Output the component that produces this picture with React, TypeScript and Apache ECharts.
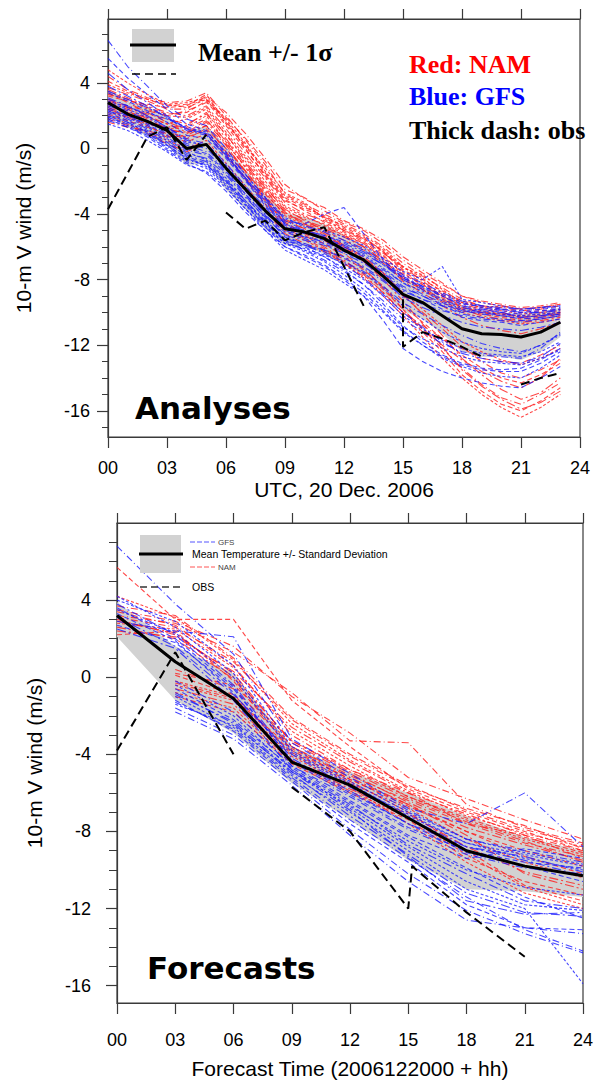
import React, { useEffect, useRef } from "react";
import * as echarts from "echarts";

// ---------- axes / ticks ----------
const HOURS_A = [0, 1, 2, 3, 4, 5, 6, 7, 8, 9, 10, 11, 12, 13, 14, 15, 16, 17, 18, 19, 20, 21, 22, 23];
const HOURS_F = [0, 3, 6, 9, 12, 15, 18, 21, 24];
const Y_MAJOR = [-16, -12, -8, -4, 0, 4];
const Y_MINOR_A = [-17, -16, -15, -14, -13, -12, -11, -10, -9, -8, -7, -6, -5, -4, -3, -2, -1, 0, 1, 2, 3, 4, 5, 6, 7];
const Y_MINOR_F = [-16, -15, -14, -13, -12, -11, -10, -9, -8, -7, -6, -5, -4, -3, -2, -1, 0, 1, 2, 3, 4, 5, 6, 7];

// ---------- Analyses (top) ----------
const meanA = [2.8, 2.1, 1.65, 1.1, 0.0, 0.25, -1.2, -2.5, -3.8, -4.9, -5.1, -5.5, -6.2, -6.8, -7.8, -8.9, -9.4, -10.2, -11.0, -11.3, -11.35, -11.5, -11.2, -10.6];
const upperA = [3.6, 2.9, 2.5, 2.0, 1.0, 1.4, 0.1, -1.3, -2.7, -3.9, -4.2, -4.6, -5.3, -5.9, -6.8, -7.9, -8.4, -9.1, -9.6, -9.9, -10.0, -10.1, -10.0, -9.7];
const lowerA = [2.0, 1.3, 0.8, 0.2, -1.0, -0.9, -2.5, -3.7, -4.9, -5.9, -6.0, -6.4, -7.1, -7.7, -8.8, -9.9, -10.4, -11.3, -12.4, -12.7, -12.7, -12.9, -12.4, -11.5];
const obsHoursA = [0, 1, 2, 3, 4, 5, 5.5, 6, 7, 8, 9, 10, 11, 12, 13, 14, 15, 15, 16, 17, 18, 19, 20, 21, 22, 23];
const obsValuesA = [-3.7, -1.5, 0.7, 1.3, -0.7, 0.85, null, -3.9, -4.9, -4.4, -5.6, -5.1, -4.8, -7.2, -9.6, null, -9.2, -12.1, -11.2, -11.6, -12.1, -12.7, null, -14.4, -14.0, -13.7];

const namA1 = [3.2, 2.9, 2.7, 2.5, 2.6, 3.3, 1.6, 0.2, -1.5, -3.0, -3.6, -4.1, -4.8, -5.4, -6.3, -7.4, -8.0, -8.7, -9.3, -9.6, -9.8, -10.0, -9.9, -9.8];
const namA2 = [4.4, 3.6, 3.1, 2.8, 2.9, 3.4, 2.0, 0.5, -1.0, -2.8, -3.4, -4.0, -4.6, -5.2, -6.0, -7.0, -7.8, -8.5, -9.2, -9.6, -9.7, -9.9, -9.8, -9.6];
const namA3 = [2.6, 2.2, 1.9, 1.5, 1.8, 2.4, 0.8, -0.6, -2.2, -3.6, -4.2, -4.6, -5.2, -5.8, -6.6, -7.6, -8.3, -9.0, -9.6, -9.9, -10.1, -10.2, -10.1, -10.0];
const namA4 = [3.6, 3.1, 2.6, 2.2, 2.0, 2.6, 1.2, -0.3, -1.8, -3.3, -4.0, -4.4, -5.0, -5.6, -6.4, -7.2, -8.1, -8.9, -9.5, -9.8, -10.0, -10.3, -10.2, -10.1];
const namA5 = [2.1, 1.7, 1.3, 0.9, 0.6, 1.2, 0.0, -1.4, -2.8, -4.0, -4.6, -5.0, -5.6, -6.2, -7.0, -8.0, -8.6, -9.3, -9.9, -10.1, -10.3, -10.5, -10.4, -10.2];
const namA6 = [3.0, 2.6, 2.3, 2.0, 2.3, 2.8, 1.9, 0.6, -0.8, -2.5, -3.0, -3.8, -4.5, -5.0, -5.8, -6.8, -7.6, -8.3, -9.0, -9.3, -9.5, -9.7, -9.6, -9.4];
const namA7 = [4.8, 4.0, 3.3, 2.7, 2.5, 3.0, 1.5, 0.1, -1.2, -2.7, -3.3, -4.3, -5.0, -5.5, -6.2, -7.3, -7.7, -8.6, -9.4, -9.7, -9.9, -10.1, -10.0, -9.9];
const namA8 = [2.8, 2.4, 1.8, 1.2, 0.9, 1.6, 0.3, -1.1, -2.6, -3.9, -4.5, -4.9, -5.4, -6.0, -6.8, -7.9, -8.5, -9.2, -9.8, -10.2, -10.4, -10.6, -10.5, -10.3];
const namA9 = [2.4, 1.9, 1.4, 0.8, 0.4, 0.9, -0.5, -1.8, -3.2, -4.5, -5.2, -5.8, -6.6, -7.4, -8.4, -9.6, -10.6, -11.6, -12.6, -13.4, -14.0, -14.3, -13.8, -13.1];
const namA10 = [3.4, 2.8, 2.2, 1.6, 1.2, 1.8, 0.2, -1.4, -2.9, -4.3, -4.9, -5.6, -6.4, -7.3, -8.5, -9.8, -11.0, -12.2, -13.4, -14.4, -15.2, -15.6, -15.0, -14.3];
const namA11 = [2.0, 1.5, 1.0, 0.5, 0.0, 0.5, -0.9, -2.3, -3.7, -5.0, -5.6, -6.2, -7.0, -7.9, -9.0, -10.2, -11.5, -12.8, -14.0, -15.0, -15.8, -16.4, -15.8, -15.0];
const namA12 = [3.0, 2.5, 2.0, 1.5, 1.0, 1.4, -0.2, -1.6, -3.1, -4.6, -5.3, -6.0, -6.8, -7.7, -8.8, -10.0, -11.0, -12.0, -12.9, -13.6, -14.2, -14.6, -14.0, -12.8];
const namA13 = [2.7, 2.3, 1.7, 1.0, 0.7, 1.1, -0.3, -1.9, -3.4, -4.8, -5.5, -6.1, -6.9, -7.6, -8.6, -9.8, -11.2, -12.4, -13.8, -14.8, -15.6, -16.0, -15.4, -14.6];
const namA14 = [1.8, 1.4, 0.9, 0.3, -0.2, 0.3, -1.2, -2.6, -3.8, -5.2, -5.8, -6.3, -7.0, -7.8, -8.8, -10.0, -10.8, -11.6, -12.2, -12.8, -13.0, -13.1, -12.6, -12.0];
const namA15 = [3.9, 3.4, 3.0, 2.7, 2.8, 3.1, 1.8, 0.3, -1.4, -2.9, -3.5, -4.2, -4.7, -5.3, -6.1, -7.2, -7.9, -8.8, -9.4, -9.7, -9.6, -9.8, -9.7, -9.5];
const namA16 = [2.5, 2.1, 1.6, 1.1, 1.0, 1.7, 0.5, -1.0, -2.4, -3.7, -4.4, -4.8, -5.3, -6.0, -6.9, -8.1, -8.8, -9.6, -10.3, -10.8, -11.1, -11.3, -11.0, -10.6];
const namA17 = [3.3, 3.0, 2.5, 2.1, 2.2, 2.9, 1.4, -0.1, -1.6, -3.1, -3.8, -4.5, -5.1, -5.7, -6.5, -7.7, -8.3, -9.1, -9.7, -10.0, -10.2, -10.4, -10.3, -10.1];
const namA18 = [3.7, 3.3, 2.9, 2.4, 2.4, 3.2, 2.2, 0.9, -0.6, -2.2, -3.1, -3.6, -4.4, -4.9, -5.6, -6.6, -7.4, -8.2, -9.0, -9.4, -9.6, -9.8, -9.7, -9.5];
const namA19 = [2.2, 1.9, 1.5, 1.2, 1.3, 2.0, 0.4, -1.2, -2.7, -4.1, -4.7, -5.3, -6.0, -6.7, -7.6, -8.8, -9.8, -10.8, -11.8, -12.4, -12.9, -13.2, -12.8, -12.2];
const namA20 = [2.9, 2.5, 2.1, 1.8, 1.5, 2.1, 0.9, -0.8, -2.3, -3.8, -4.3, -5.1, -5.9, -6.6, -7.6, -8.9, -10.1, -11.4, -12.8, -13.8, -14.7, -15.3, -14.9, -14.0];
const namA21 = [4.1, 3.5, 3.0, 2.6, 2.7, 3.0, 1.7, 0.0, -1.7, -3.2, -3.7, -4.2, -4.9, -5.5, -6.3, -7.5, -8.2, -9.0, -9.7, -10.0, -10.1, -10.3, -10.2, -10.0];
const namA22 = [1.6, 1.3, 1.1, 0.7, 0.8, 1.4, 0.2, -1.5, -3.0, -4.4, -4.9, -5.4, -6.1, -6.8, -7.8, -9.0, -10.0, -11.0, -12.1, -13.0, -13.7, -14.0, -13.5, -12.9];
const namA23 = [3.5, 3.0, 2.4, 2.0, 1.9, 2.5, 1.0, -0.5, -2.0, -3.5, -4.1, -4.7, -5.3, -5.8, -6.7, -7.8, -8.6, -9.4, -10.0, -10.3, -10.5, -10.7, -10.6, -10.4];
const namA24 = [2.4, 2.0, 1.6, 1.3, 1.4, 2.2, 0.6, -0.9, -2.5, -3.9, -4.6, -5.2, -6.0, -6.9, -8.0, -9.3, -10.7, -12.1, -13.5, -14.5, -15.3, -15.9, -15.5, -14.8];

const gfsA1 = [6.6, 5.0, 3.8, 2.6, 1.8, 1.4, 0.0, -1.6, -3.0, -4.4, -5.0, -5.4, -6.0, -6.6, -7.4, -8.2, -8.9, -9.4, -9.9, -10.1, -10.2, -10.4, -10.3, -10.1];
const gfsA2 = [2.8, 2.4, 1.9, 1.2, 0.4, 0.2, -1.0, -2.4, -3.8, -4.9, -5.4, -5.6, -6.0, -6.5, -7.3, -8.2, -8.7, -9.3, -9.8, -10.0, -10.1, -10.2, -10.1, -10.0];
const gfsA3 = [2.3, 1.8, 1.2, 0.5, -0.3, -0.6, -1.6, -3.0, -4.2, -5.3, -5.6, -5.9, -6.4, -7.0, -7.8, -8.7, -9.2, -9.6, -10.0, -9.8, -10.0, -10.3, -10.2, -10.1];
const gfsA4 = [3.4, 2.9, 2.3, 1.6, 0.8, 0.6, -0.6, -2.0, -3.5, -4.7, -5.1, -5.3, -5.7, -6.2, -7.0, -7.9, -8.5, -9.0, -9.5, -9.6, -9.8, -9.9, -9.8, -9.7];
const gfsA5 = [1.7, 1.3, 0.8, 0.1, -0.7, -1.0, -2.1, -3.4, -4.6, -5.6, -5.9, -6.2, -6.7, -7.3, -8.1, -9.0, -9.5, -9.9, -10.2, -10.4, -10.5, -10.6, -10.4, -10.2];
const gfsA6 = [2.9, 2.5, 2.2, 1.8, 1.3, 1.0, -0.2, -1.6, -3.0, -4.2, -4.8, -5.0, -5.4, -5.9, -6.7, -7.5, -8.0, -7.2, -9.2, -9.4, -9.6, -9.8, -9.7, -9.6];
const gfsA7 = [2.0, 1.6, 1.0, 0.3, -0.4, -0.8, -1.9, -3.2, -4.4, -5.5, -5.8, -6.2, -6.6, -7.2, -8.0, -9.1, -9.7, -10.2, -10.6, -10.9, -11.0, -11.1, -10.9, -10.6];
const gfsA8 = [5.5, 4.3, 3.3, 2.4, 1.5, 1.1, -0.3, -1.8, -3.2, -4.5, -4.6, -4.0, -3.6, -5.2, -6.8, -7.9, -8.4, -8.9, -9.4, -9.7, -9.9, -10.0, -9.9, -9.8];
const gfsA9 = [2.5, 2.0, 1.4, 0.7, -0.1, -0.4, -1.5, -2.9, -4.3, -5.6, -6.2, -6.8, -7.5, -8.3, -9.3, -10.4, -11.2, -11.9, -12.4, -12.6, -12.7, -12.8, -12.2, -11.2];
const gfsA10 = [1.9, 1.4, 0.8, 0.0, -0.8, -1.2, -2.3, -3.7, -5.0, -6.2, -6.8, -7.4, -8.2, -9.0, -10.0, -11.2, -12.0, -12.8, -13.3, -13.7, -13.9, -14.0, -13.4, -12.6];
const gfsA11 = [3.1, 2.6, 2.0, 1.3, 0.5, 0.2, -1.1, -2.6, -4.0, -5.3, -5.9, -6.4, -7.1, -7.9, -8.9, -10.0, -10.9, -11.8, -12.5, -12.8, -13.0, -13.1, -12.7, -11.9];
const gfsA12 = [2.2, 1.7, 1.1, 0.4, -0.5, -0.9, -2.0, -3.4, -4.8, -6.0, -6.6, -7.2, -8.0, -9.0, -10.5, -12.2, -13.0, -13.6, -14.0, -14.3, -14.5, -14.6, -14.0, -13.3];
const gfsA13 = [2.6, 2.2, 1.6, 0.9, 0.2, -0.2, -1.3, -2.8, -4.1, -5.4, -5.9, -6.3, -6.9, -7.5, -8.4, -9.4, -10.1, -10.8, -11.4, -11.9, -12.2, -12.4, -12.0, -11.4];
const gfsA14 = [1.5, 1.1, 0.5, -0.2, -1.0, -1.4, -2.4, -3.7, -4.8, -5.8, -6.3, -6.9, -7.7, -8.6, -9.7, -10.9, -11.6, -12.2, -12.7, -13.0, -13.1, -13.2, -12.8, -12.3];
const gfsA15 = [3.8, 3.2, 2.6, 1.9, 1.2, 0.9, -0.4, -1.9, -3.3, -4.6, -5.1, -5.5, -5.9, -6.4, -7.1, -7.8, -8.4, -9.0, -9.6, -9.8, -9.8, -10.0, -10.0, -9.9];
const gfsA16 = [2.4, 2.0, 1.5, 0.8, 0.0, -0.3, -1.4, -2.8, -4.1, -5.1, -5.5, -5.8, -6.3, -6.9, -7.7, -8.6, -9.2, -9.8, -10.3, -10.5, -10.6, -10.8, -10.6, -10.4];
const gfsA17 = [3.0, 2.6, 2.0, 1.3, 0.6, 0.3, -0.9, -2.3, -3.6, -4.8, -5.2, -5.5, -6.1, -6.8, -7.6, -8.5, -9.0, -9.5, -9.9, -10.0, -10.2, -10.3, -10.2, -10.0];
const gfsA18 = [2.1, 1.6, 1.0, 0.2, -0.6, -1.1, -2.2, -3.5, -4.7, -5.8, -6.1, -6.5, -7.0, -7.6, -8.5, -9.6, -10.4, -11.2, -11.8, -12.2, -12.4, -12.5, -12.0, -11.3];
const gfsA19 = [3.5, 3.0, 2.5, 1.9, 1.1, 0.8, -0.5, -1.9, -3.4, -4.6, -5.0, -5.3, -5.8, -6.3, -7.1, -8.0, -8.6, -9.2, -9.7, -9.9, -10.0, -10.1, -10.0, -9.8];
const gfsA20 = [1.8, 1.3, 0.7, -0.1, -0.9, -1.5, -2.6, -3.9, -5.0, -6.0, -6.5, -7.1, -7.9, -8.8, -9.9, -11.1, -12.0, -12.7, -13.2, -13.5, -13.6, -13.6, -13.1, -12.4];
const gfsA21 = [2.7, 2.3, 1.7, 1.0, 0.3, 0.0, -1.2, -2.6, -3.9, -5.0, -5.4, -5.7, -6.2, -6.8, -7.5, -8.4, -9.0, -9.6, -10.1, -10.3, -10.4, -10.5, -10.4, -10.2];
const gfsA22 = [2.3, 1.9, 1.3, 0.6, -0.2, -0.7, -1.8, -3.2, -4.5, -5.7, -6.2, -6.6, -7.3, -8.0, -9.0, -10.2, -11.0, -11.7, -12.2, -12.5, -12.6, -12.7, -12.4, -11.8];
const gfsA23 = [4.6, 3.6, 2.8, 2.0, 1.2, 0.9, -0.4, -1.8, -3.1, -4.3, -4.7, -5.1, -5.6, -6.1, -6.9, -7.7, -8.2, -8.8, -9.3, -9.6, -9.7, -9.8, -9.7, -9.6];
const gfsA24 = [1.9, 1.5, 0.9, 0.2, -0.6, -1.0, -2.0, -3.3, -4.5, -5.6, -6.0, -6.6, -7.4, -8.3, -9.5, -10.8, -11.8, -12.6, -13.1, -13.4, -13.5, -13.4, -12.9, -12.2];

// ---------- Forecasts (bottom), 3-hourly ----------
const meanF = [3.2, 0.8, -1.1, -4.4, -5.6, -7.3, -9.0, -9.8, -10.3];
const upperF = [3.9, 1.6, 0.2, -3.6, -4.9, -6.0, -7.2, -8.3, -9.0];
const lowerF = [2.1, -1.2, -2.9, -5.5, -7.4, -9.5, -11.0, -11.1, -11.4];
const obsHoursF = [0, 3, 6, 7.5, 9, 12, 15, 15.2, 18, 21];
const obsValuesF = [-3.8, 1.3, -4.0, null, -5.7, -8.0, -12.0, -9.8, -12.2, -14.5];

const gfsF1 = [6.8, 3.8, 1.2, -3.4, -5.2, -6.9, -8.4, -9.0, -9.6];
const gfsF2 = [4.2, 2.6, 0.2, -3.8, -5.5, -7.2, -8.6, -9.2, -9.8];
const gfsF3 = [3.8, 2.2, -0.4, -4.2, -5.9, -7.6, -8.8, -9.3, -10.1];
const gfsF4 = [3.3, 1.9, -0.8, -4.6, -6.4, -8.2, -9.4, -8.9, -9.4];
const gfsF5 = [2.9, 2.4, 2.1, -3.2, -5.0, -6.8, -7.6, -6.0, -8.8];
const gfsF6 = [null, -0.4, -2.0, -4.8, -6.8, -8.8, -10.6, -11.8, -12.1];
const gfsF7 = [null, -0.8, -2.4, -5.0, -7.2, -9.2, -11.2, -12.2, -12.4];
const gfsF8 = [null, -1.2, -2.8, -5.3, -7.6, -9.6, -11.8, -13.0, -13.1];
const gfsF9 = [null, -1.6, -3.0, -5.4, -7.9, -10.2, -12.1, -13.3, -14.3];
const gfsF10 = [null, -1.0, -2.6, -5.1, -7.0, -9.0, -11.0, -12.0, -15.9];
const gfsF11 = [2.5, 1.5, -1.2, -4.8, -6.6, -8.7, -10.2, -11.6, -12.0];
const gfsF12 = [3.6, 2.0, -0.5, -4.4, -6.1, -7.8, -9.0, -9.6, -9.9];
const gfsF13 = [null, -0.2, -1.8, -4.6, -6.2, -7.9, -9.2, -9.9, -10.2];
const gfsF14 = [null, -1.4, -2.5, -4.9, -6.7, -8.5, -10.0, -10.9, -11.3];
const gfsF15 = [3.1, 1.6, -0.9, -4.0, -5.7, -7.3, -8.8, -9.5, -10.3];
const gfsF16 = [null, -0.6, -2.2, -4.7, -6.5, -8.3, -9.9, -11.4, -12.5];
const gfsF17 = [null, -1.8, -3.2, -5.6, -8.2, -10.6, -12.6, -13.0, -13.3];
const gfsF18 = [4.0, 2.9, 0.6, -3.6, -5.4, -7.0, -8.4, -9.1, -9.7];
const gfsF19 = [null, -0.9, -2.3, -4.9, -6.9, -9.3, -11.6, -12.3, -12.2];
const gfsF20 = [2.7, 1.8, -0.6, -4.3, -6.0, -7.6, -9.1, -9.8, -10.6];
const gfsF21 = [null, -1.3, -2.7, -5.2, -7.4, -9.4, -11.4, -13.1, -14.2];
const gfsF22 = [3.5, 2.3, 0.0, -3.9, -5.6, -7.1, -8.6, -9.4, -10.0];

const namF1 = [5.7, 3.0, 3.0, -1.2, -3.6, -5.8, -7.0, -8.0, -9.0];
const namF2 = [3.2, 2.8, 1.3, -0.8, -3.3, -3.4, -6.6, -7.8, -8.6];
const namF3 = [2.8, 2.5, 0.5, -2.8, -4.6, -6.2, -7.4, -8.4, -9.2];
const namF4 = [3.0, 2.2, 0.2, -3.4, -5.0, -6.5, -7.8, -8.7, -9.5];
const namF5 = [2.2, 2.4, -0.2, -3.8, -5.3, -6.7, -8.0, -9.0, -9.8];
const namF6 = [null, 0.4, -0.6, -3.6, -5.1, -6.4, -7.6, -8.2, -9.0];
const namF7 = [null, -0.2, -1.0, -4.0, -5.5, -6.8, -8.4, -9.6, -10.4];
const namF8 = [null, -0.6, -1.4, -4.3, -5.8, -7.1, -8.8, -10.1, -10.8];
const namF9 = [null, -1.0, -1.8, -4.5, -6.0, -7.4, -9.4, -10.6, -11.3];
const namF10 = [3.5, 2.9, 1.6, -1.0, -2.9, -5.2, -6.3, -7.4, -8.4];
const namF11 = [4.2, 3.1, 0.9, -2.4, -4.3, -5.9, -7.2, -8.1, -8.8];
const namF12 = [2.6, 2.0, -0.1, -3.6, -5.2, -6.6, -8.2, -10.2, -11.0];
const namF13 = [null, 0.1, -0.9, -3.9, -5.4, -7.0, -9.0, -10.8, -11.6];
const namF14 = [3.4, 2.7, 0.6, -3.0, -4.8, -6.0, -7.6, -8.6, -9.3];
const namF15 = [null, -0.4, -1.2, -4.1, -5.7, -7.6, -9.6, -11.2, -12.0];
const namF16 = [2.9, 2.3, 0.0, -3.3, -4.9, -6.3, -7.5, -8.5, -9.6];
const namF17 = [null, 0.2, -0.4, -3.3, -4.8, -6.2, -7.3, -8.3, -9.1];
const namF18 = [3.7, 3.2, 1.0, -2.1, -4.0, -5.6, -6.9, -7.9, -8.7];
const namF19 = [null, -0.8, -1.6, -4.4, -5.9, -7.3, -9.2, -10.9, -11.8];
const namF20 = [2.4, 2.1, 0.3, -2.6, -4.4, -6.0, -7.1, -8.2, -9.4];
const namF21 = [null, -0.3, -1.1, -3.7, -5.3, -6.6, -8.0, -9.3, -10.2];
const namF22 = [3.1, 2.6, 0.8, -2.2, -4.1, -5.7, -6.8, -7.7, -8.9];

const NAM_A = [namA1, namA2, namA3, namA4, namA5, namA6, namA7, namA8, namA9, namA10, namA11, namA12,
  namA13, namA14, namA15, namA16, namA17, namA18, namA19, namA20, namA21, namA22, namA23, namA24];
const GFS_A = [gfsA1, gfsA2, gfsA3, gfsA4, gfsA5, gfsA6, gfsA7, gfsA8, gfsA9, gfsA10, gfsA11, gfsA12,
  gfsA13, gfsA14, gfsA15, gfsA16, gfsA17, gfsA18, gfsA19, gfsA20, gfsA21, gfsA22, gfsA23, gfsA24];
const NAM_F = [namF1, namF2, namF3, namF4, namF5, namF6, namF7, namF8, namF9, namF10, namF11, namF12,
  namF13, namF14, namF15, namF16, namF17, namF18, namF19, namF20, namF21, namF22];
const GFS_F = [gfsF1, gfsF2, gfsF3, gfsF4, gfsF5, gfsF6, gfsF7, gfsF8, gfsF9, gfsF10, gfsF11, gfsF12,
  gfsF13, gfsF14, gfsF15, gfsF16, gfsF17, gfsF18, gfsF19, gfsF20, gfsF21, gfsF22];

const RED = "#ff1a1a";
const BLUE = "#1a1aff";
const DASHES = [[5, 3], [7, 3, 1, 3], [3, 2], [9, 3, 2, 3]];
const FRAME = "#3a3a3a";
const SANS = "Liberation Sans";

function pairs(xs: number[], ys: (number | null)[]) {
  const out: any[] = [];
  for (let i = 0; i < xs.length; i++) {
    out.push(ys[i] == null ? [xs[i], "-"] : [xs[i], ys[i]]);
  }
  return out;
}

function memberSeries(list: (number | null)[][], hours: number[], color: string, axis: number, offset: number) {
  return list.map((arr, i) => ({
    type: "line",
    xAxisIndex: axis,
    yAxisIndex: axis,
    data: pairs(hours, arr),
    symbol: "none",
    silent: true,
    connectNulls: false,
    z: 2,
    lineStyle: { color, width: 1.1, opacity: 0.8, type: DASHES[(i + offset) % DASHES.length] },
  }));
}

function bandSeries(hours: number[], up: number[], lo: number[], axis: number) {
  return {
    type: "custom",
    xAxisIndex: axis,
    yAxisIndex: axis,
    silent: true,
    z: 1,
    data: [[hours[0], up[0]]],
    renderItem: (_p: any, api: any) => {
      const pts: number[][] = [];
      for (let i = 0; i < hours.length; i++) pts.push(api.coord([hours[i], up[i]]));
      for (let i = hours.length - 1; i >= 0; i--) pts.push(api.coord([hours[i], lo[i]]));
      return { type: "polygon", shape: { points: pts }, style: { fill: "#d2d2d2", stroke: "none" } };
    },
  };
}

function xAxes(grid: number, name: string, labelMargin: number, nameGap: number) {
  return [
    {
      type: "value", gridIndex: grid, min: 0, max: 24, interval: 3, position: "bottom",
      axisLine: { show: true, onZero: false, lineStyle: { color: FRAME, width: 1.2 } },
      axisTick: { show: true, length: 11, lineStyle: { color: FRAME, width: 1.2 } },
      axisLabel: { show: true, margin: labelMargin, fontSize: 18, color: "#000", fontFamily: SANS,
        formatter: (v: number) => (v < 10 ? "0" + v : String(v)) },
      splitLine: { show: false },
      name, nameLocation: "middle", nameGap,
      nameTextStyle: { fontSize: 21, color: "#000", fontFamily: SANS },
    },
    {
      type: "value", gridIndex: grid, min: 0, max: 24, interval: 3, position: "top",
      axisLine: { show: true, onZero: false, lineStyle: { color: FRAME, width: 1.2 } },
      axisTick: { show: true, length: 10, lineStyle: { color: FRAME, width: 1.2 } },
      axisLabel: { show: false },
      splitLine: { show: false },
    },
  ];
}

function yAxes(grid: number, min: number, max: number, minor: number[], labelMargin: number, nameGap: number, minorLen: number) {
  return [
    {
      type: "value", gridIndex: grid, min, max, position: "left",
      axisLine: { show: true, onZero: false, lineStyle: { color: FRAME, width: 1.2 } },
      axisTick: { show: true, length: 11, customValues: Y_MAJOR, lineStyle: { color: FRAME, width: 1.2 } },
      axisLabel: { show: true, customValues: Y_MAJOR, margin: labelMargin, fontSize: 18, color: "#000", fontFamily: SANS },
      splitLine: { show: false },
      name: "10-m V wind (m/s)", nameLocation: "middle", nameGap,
      nameTextStyle: { fontSize: 21, color: "#000", fontFamily: SANS },
    },
    {
      type: "value", gridIndex: grid, min, max, position: "left",
      axisLine: { show: false, onZero: false },
      axisTick: { show: true, length: minorLen, customValues: minor, lineStyle: { color: FRAME, width: 1 } },
      axisLabel: { show: false },
      splitLine: { show: false },
    },
  ];
}

export default function App() {
  const ref = useRef<HTMLDivElement>(null);

  useEffect(() => {
    document.body.style.margin = "0";
    if (!ref.current) return;
    const chart = echarts.init(ref.current, undefined, { renderer: "svg" });

    const series: any[] = [
      bandSeries(HOURS_A, upperA, lowerA, 0),
      ...memberSeries(NAM_A, HOURS_A, RED, 0, 0),
      ...memberSeries(GFS_A, HOURS_A, BLUE, 0, 1),
      { type: "line", xAxisIndex: 0, yAxisIndex: 0, data: pairs(HOURS_A, meanA), symbol: "none", silent: true, z: 5,
        lineStyle: { color: "#000", width: 3 } },
      { type: "line", xAxisIndex: 0, yAxisIndex: 0, data: pairs(obsHoursA, obsValuesA), symbol: "none", silent: true, z: 5,
        connectNulls: false, lineStyle: { color: "#000", width: 2, type: [9, 5] } },

      bandSeries(HOURS_F, upperF, lowerF, 2),
      ...memberSeries(NAM_F, HOURS_F, RED, 2, 0),
      ...memberSeries(GFS_F, HOURS_F, BLUE, 2, 1),
      { type: "line", xAxisIndex: 2, yAxisIndex: 2, data: pairs(HOURS_F, meanF), symbol: "none", silent: true, z: 5,
        lineStyle: { color: "#000", width: 3 } },
      { type: "line", xAxisIndex: 2, yAxisIndex: 2, data: pairs(obsHoursF, obsValuesF), symbol: "none", silent: true, z: 5,
        connectNulls: false, lineStyle: { color: "#000", width: 2, type: [9, 5] } },
    ];

    const serif = '"Liberation Serif", "DejaVu Serif", serif';

    chart.setOption({
      animation: false,
      backgroundColor: "#ffffff",
      textStyle: { fontFamily: SANS },
      grid: [
        { left: 108, top: 19, width: 472, height: 418, show: true, borderColor: FRAME, borderWidth: 1.2 },
        { left: 117, top: 523, width: 466, height: 480, show: true, borderColor: FRAME, borderWidth: 1.2 },
      ],
      xAxis: [
        ...xAxes(0, "UTC, 20 Dec. 2006", 22, 42),
        ...xAxes(1, "Forecast Time (2006122000 + hh)", 28, 55),
      ],
      yAxis: [
        ...yAxes(0, -17.6, 7.9, Y_MINOR_A, 18, 74, 6),
        ...yAxes(1, -16.9, 8, Y_MINOR_F, 26, 72, 8),
      ],
      graphic: [
        // top legend
        { type: "rect", shape: { x: 132, y: 29, width: 42, height: 33 }, style: { fill: "#d2d2d2" }, z: 10 },
        { type: "line", shape: { x1: 130, y1: 45, x2: 176, y2: 45 }, style: { stroke: "#000", lineWidth: 3 }, z: 11 },
        { type: "line", shape: { x1: 132, y1: 74, x2: 176, y2: 74 }, style: { stroke: "#000", lineWidth: 1.5, lineDash: [8, 5] }, z: 11 },
        { type: "text", x: 198, y: 52, z: 11, style: { text: "Mean +/- 1σ", font: `bold 26px ${serif}`, fill: "#000", verticalAlign: "middle" } },
        { type: "text", x: 409, y: 64, z: 11, style: { text: "Red: NAM", font: `bold 26px ${serif}`, fill: "#ff0000", verticalAlign: "middle" } },
        { type: "text", x: 409, y: 96, z: 11, style: { text: "Blue: GFS", font: `bold 26px ${serif}`, fill: "#0000ff", verticalAlign: "middle" } },
        { type: "text", x: 409, y: 130, z: 11, style: { text: "Thick dash: obs", font: `bold 26px ${serif}`, fill: "#000", verticalAlign: "middle" } },
        { type: "text", x: 135, y: 408, z: 11, style: { text: "Analyses", font: 'bold 31px "DejaVu Sans"', fill: "#000", verticalAlign: "middle" } },
        // bottom legend
        { type: "rect", shape: { x: 140, y: 535, width: 41, height: 38 }, style: { fill: "#d2d2d2" }, z: 10 },
        { type: "line", shape: { x1: 139, y1: 554, x2: 183, y2: 554 }, style: { stroke: "#000", lineWidth: 3 }, z: 11 },
        { type: "line", shape: { x1: 190, y1: 542, x2: 215, y2: 542 }, style: { stroke: "#5555ff", lineWidth: 1, lineDash: [5, 2] }, z: 11 },
        { type: "text", x: 218, y: 542, z: 11, style: { text: "GFS", font: `8px ${SANS}`, fill: "#444", verticalAlign: "middle" } },
        { type: "text", x: 192, y: 554, z: 11, style: { text: "Mean Temperature +/- Standard Deviation", font: `10.5px ${SANS}`, fill: "#000", verticalAlign: "middle" } },
        { type: "line", shape: { x1: 190, y1: 567, x2: 215, y2: 567 }, style: { stroke: "#ff5555", lineWidth: 1, lineDash: [5, 2] }, z: 11 },
        { type: "text", x: 218, y: 567, z: 11, style: { text: "NAM", font: `8px ${SANS}`, fill: "#444", verticalAlign: "middle" } },
        { type: "line", shape: { x1: 140, y1: 587, x2: 182, y2: 587 }, style: { stroke: "#333", lineWidth: 1.3, lineDash: [7, 4] }, z: 11 },
        { type: "text", x: 192, y: 587, z: 11, style: { text: "OBS", font: `10.5px ${SANS}`, fill: "#000", verticalAlign: "middle" } },
        { type: "text", x: 147, y: 968, z: 11, style: { text: "Forecasts", font: 'bold 31px "DejaVu Sans"', fill: "#000", verticalAlign: "middle" } },
      ],
      series,
    });

    return () => chart.dispose();
  }, []);

  return <div ref={ref} style={{ width: 601, height: 1085 }} />;
}
